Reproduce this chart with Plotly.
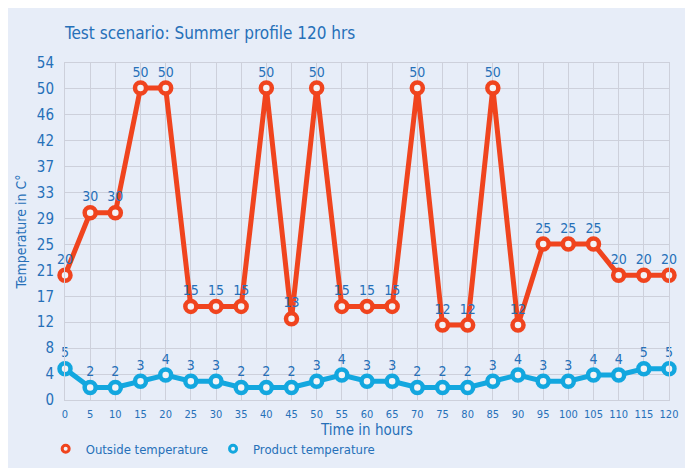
import plotly.graph_objects as go

hours = list(range(0, 121, 5))
outside_temp = [20, 30, 30, 50, 50, 15, 15, 15, 50, 13, 50, 15, 15, 15, 50, 12, 12, 50, 12, 25, 25, 25, 20, 20, 20]
product_temp = [5, 2, 2, 3, 4, 3, 3, 2, 2, 2, 3, 4, 3, 3, 2, 2, 2, 3, 4, 3, 3, 4, 4, 5, 5]
y_tick_labels = ["0", "4", "8", "12", "17", "21", "25", "29", "33", "37", "42", "46", "50", "54"]
y_max = 54

FONT = "DejaVu Sans Condensed, DejaVu Sans, sans-serif"
TXT = "#2670b8"
BG = "#e7edf8"
RED = "#f0441e"
BLUE = "#13a7df"

fig = go.Figure()
for name, vals, col in [("Outside temperature", outside_temp, RED), ("Product temperature", product_temp, BLUE)]:
    fig.add_trace(go.Scatter(
        x=hours, y=vals, name=name, showlegend=False,
        mode="lines+markers+text", text=[str(v) for v in vals],
        textposition="top center", textfont=dict(size=14, color=TXT, family=FONT),
        line=dict(color=col, width=5),
        marker=dict(symbol="circle", size=11, color="#f3f3f6", line=dict(color=col, width=4.5)),
    ))
for name, col in [("Outside temperature", RED), ("Product temperature", BLUE)]:
    fig.add_trace(go.Scatter(
        x=[None], y=[None], name=name, mode="markers",
        marker=dict(symbol="circle", size=7, color="#f3f3f6", line=dict(color=col, width=3)),
    ))

n = len(y_tick_labels) - 1
tickvals = [y_max * i / n for i in range(n + 1)]

fig.update_layout(
    width=693, height=468,
    margin=dict(l=57, r=32, t=55, b=70),
    paper_bgcolor=BG, plot_bgcolor=BG,
    font=dict(family=FONT, color=TXT),
    title=dict(text="Test scenario: Summer profile 120 hrs", x=57/693, xanchor="left",
               y=1-25/468, yanchor="middle", font=dict(size=17, color=TXT, family=FONT)),
    xaxis=dict(range=[0, 120], tickvals=hours, ticktext=[str(h) for h in hours], automargin=False,
               tickfont=dict(size=11, color=TXT), showgrid=True, gridcolor="#cdd0db", gridwidth=1,
               zeroline=False, showline=True, linecolor="#cdd0db", mirror=True,
               ticks="outside", ticklen=4, tickcolor="rgba(0,0,0,0)",
               title=dict(text="Time in hours", font=dict(size=15, color=TXT), standoff=4)),
    yaxis=dict(range=[0, y_max], tickvals=tickvals, ticktext=y_tick_labels, automargin=False,
               tickfont=dict(size=15, color=TXT), showgrid=True, gridcolor="#cdd0db", gridwidth=1,
               zeroline=False, showline=True, linecolor="#cdd0db", mirror=True,
               ticks="outside", ticklen=7, tickcolor="rgba(0,0,0,0)",
               title=dict(text="Temperature in C°", font=dict(size=14, color=TXT), standoff=6)),
    legend=dict(orientation="h", x=-0.032, xanchor="left", y=-0.145, yanchor="middle",
                font=dict(size=13, color=TXT), bgcolor="rgba(0,0,0,0)", itemwidth=30),
)
fig.update_traces(cliponaxis=False)
fig.write_html("out.html")
